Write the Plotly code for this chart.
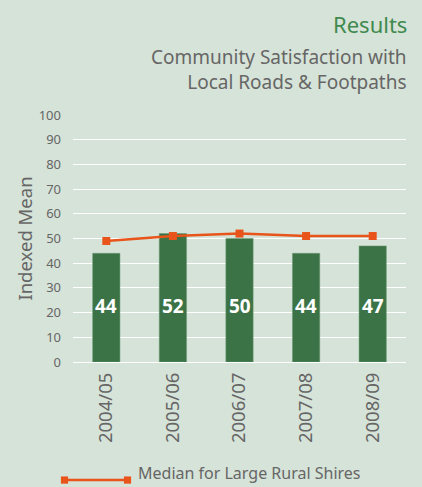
import plotly.graph_objects as go

categories = ["2004/05", "2005/06", "2006/07", "2007/08", "2008/09"]
satisfaction = [44, 52, 50, 44, 47]
median_large_rural = [49, 51, 52, 51, 51]
y_ticks = [0, 10, 20, 30, 40, 50, 60, 70, 80, 90, 100]

BG = "#d6e3d8"
BAR = "#3b7346"
ORANGE = "#e8541a"
GREY = "#666666"
FONT = "Noto Sans"

fig = go.Figure()
fig.add_trace(go.Bar(
    x=categories, y=satisfaction, marker=dict(color=BAR, line=dict(color="#6a9a74", width=0.5)),
    showlegend=False, hoverinfo="skip",
))
fig.add_trace(go.Scatter(
    x=categories, y=median_large_rural, mode="lines+markers",
    line=dict(color=ORANGE, width=2.5),
    marker=dict(symbol="square", size=8, color=ORANGE),
    showlegend=False,
))

for c, v in zip(categories, satisfaction):
    fig.add_annotation(x=c, y=22.6, text=f"<b>{v}</b>", showarrow=False,
                       font=dict(family=FONT, size=19, color="white"))

# titles
fig.add_annotation(xref="paper", yref="paper", x=1.009, y=1.369, xanchor="right", yanchor="middle",
                   text="Results", showarrow=False,
                   font=dict(family=FONT, size=22, color="#3f8a4f"))
fig.add_annotation(xref="paper", yref="paper", x=1.009, y=1.186, xanchor="right", yanchor="middle",
                   text="Community Satisfaction with<br>Local Roads &amp; Footpaths",
                   showarrow=False, align="right",
                   font=dict(family=FONT, size=19, color=GREY))

# legend (custom)
LY = -0.478
fig.add_shape(type="line", xref="paper", yref="paper", x0=-0.0255, x1=0.1637, y0=LY, y1=LY,
              line=dict(color=ORANGE, width=2.5))
for xx in (-0.0255, 0.1637):
    fig.add_shape(type="rect", xref="paper", yref="paper",
                  x0=xx - 0.0108, x1=xx + 0.0108, y0=LY - 0.0146, y1=LY + 0.0146,
                  fillcolor=ORANGE, line=dict(width=0))
fig.add_annotation(xref="paper", yref="paper", x=0.192, y=-0.498, xanchor="left", yanchor="bottom",
                   text="Median for Large Rural Shires", showarrow=False, borderpad=0,
                   font=dict(family=FONT, size=16, color=GREY))

fig.update_layout(
    width=422, height=487,
    margin=dict(l=73, r=16, t=115, b=125),
    paper_bgcolor=BG, plot_bgcolor=BG,
    bargap=0.59,
    font=dict(family=FONT, color=GREY),
    xaxis=dict(tickangle=-90, tickfont=dict(size=18.5, color=GREY), showgrid=False,
               showline=False, ticks="", ticklabelstandoff=6),
    yaxis=dict(range=[0, 100], tickvals=y_ticks, tickfont=dict(size=13, color=GREY),
               gridcolor="white", gridwidth=1, zeroline=True, zerolinecolor="white",
               zerolinewidth=1, showline=False, ticks="", ticklabelstandoff=11,
               title=dict(text="Indexed Mean", font=dict(size=18.5, color=GREY), standoff=1)),
)

fig.write_html("out.html", config={"displayModeBar": False},
               post_script="document.body.style.margin='0';document.body.style.overflow='hidden';")
